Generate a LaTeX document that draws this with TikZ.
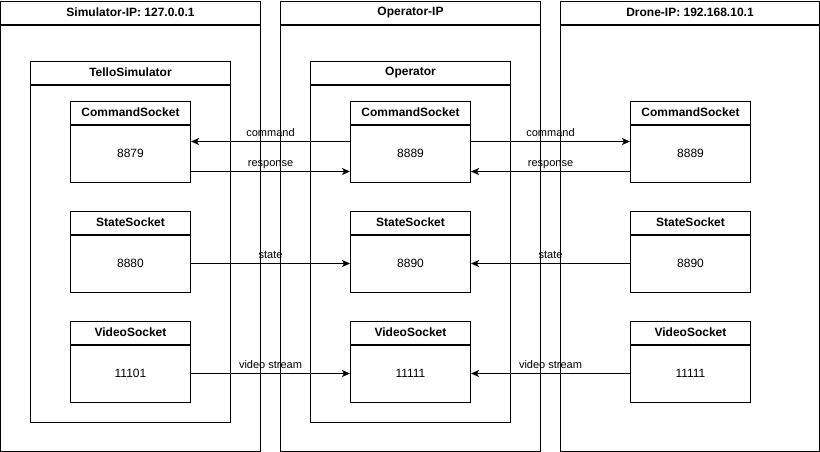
\documentclass[tikz,border=0pt]{standalone}
\usepackage{fontspec}
\setmainfont{Liberation Sans}
\usetikzlibrary{arrows.meta}

\begin{document}
\begin{tikzpicture}[x=1pt, y=-1pt, line width=1pt,
		font=\fontsize{12}{14}\selectfont,
		head/.style={draw, font=\fontsize{12}{14}\selectfont\bfseries, minimum height=23pt, inner sep=0pt, anchor=north},
		body/.style={draw, inner sep=0pt, anchor=north},
		arr/.style={-{Stealth[length=8pt,width=7pt,inset=2pt]}},
		lbl/.style={font=\fontsize{11}{13}\selectfont, anchor=base, yshift=5.5pt}]
		\useasboundingbox (0,0) rectangle (820,451);
		% hosts
		\foreach \c/\x/\w/\t in {sim/130.5/260/Simulator-IP: 127.0.0.1, op/410.5/260/Operator-IP, dr/690/259/Drone-IP: 192.168.10.1}{
			\node[head, minimum width=\w pt] (\c-head) at (\x,0.5) {\t};
			\node[body, minimum width=\w pt, minimum height=426pt] (\c) at (\c-head.south) {};
		}
		% programs
		\node[head, minimum width=200pt] (simprog-head) at (130.5,60.5) {TelloSimulator};
		\node[body, minimum width=200pt, minimum height=337pt] (simprog) at (simprog-head.south) {};
		\node[head, minimum width=200pt] (opprog-head) at (410.5,60.5) {Operator};
		\node[body, minimum width=200pt, minimum height=337pt] (opprog) at (opprog-head.south) {};
		% sockets
		\foreach \c/\x/\a/\b/\v in {sim/130.5/8879/8880/11101, op/410.5/8889/8890/11111, dr/690.5/8889/8890/11111}{
			\foreach \s/\y/\t/\n in {cmd/100.5/CommandSocket/\a, st/210.5/StateSocket/\b, vid/320.5/VideoSocket/\v}{
				\node[head, minimum width=120pt] (\c\s-head) at (\x,\y) {\t};
				\node[body, minimum width=120pt, minimum height=57pt] (\c\s) at (\c\s-head.south) {\n};
			}
		}
		% simulator <-> operator
		\draw[arr] ([yshift=12pt]opcmd.west) -- node[lbl] {command} ([yshift=12pt]simcmd.east);
		\draw[arr] ([yshift=-18pt]simcmd.east) -- node[lbl] {response} ([yshift=-18pt]opcmd.west);
		\draw[arr] (simst.east) -- node[lbl] {state} (opst.west);
		\draw[arr] (simvid.east) -- node[lbl] {video stream} (opvid.west);
		% operator <-> drone
		\draw[arr] ([yshift=12pt]opcmd.east) -- node[lbl] {command} ([yshift=12pt]drcmd.west);
		\draw[arr] ([yshift=-18pt]drcmd.west) -- node[lbl] {response} ([yshift=-18pt]opcmd.east);
		\draw[arr] (drst.west) -- node[lbl] {state} (opst.east);
		\draw[arr] (drvid.west) -- node[lbl] {video stream} (opvid.east);
\end{tikzpicture}
\end{document}
